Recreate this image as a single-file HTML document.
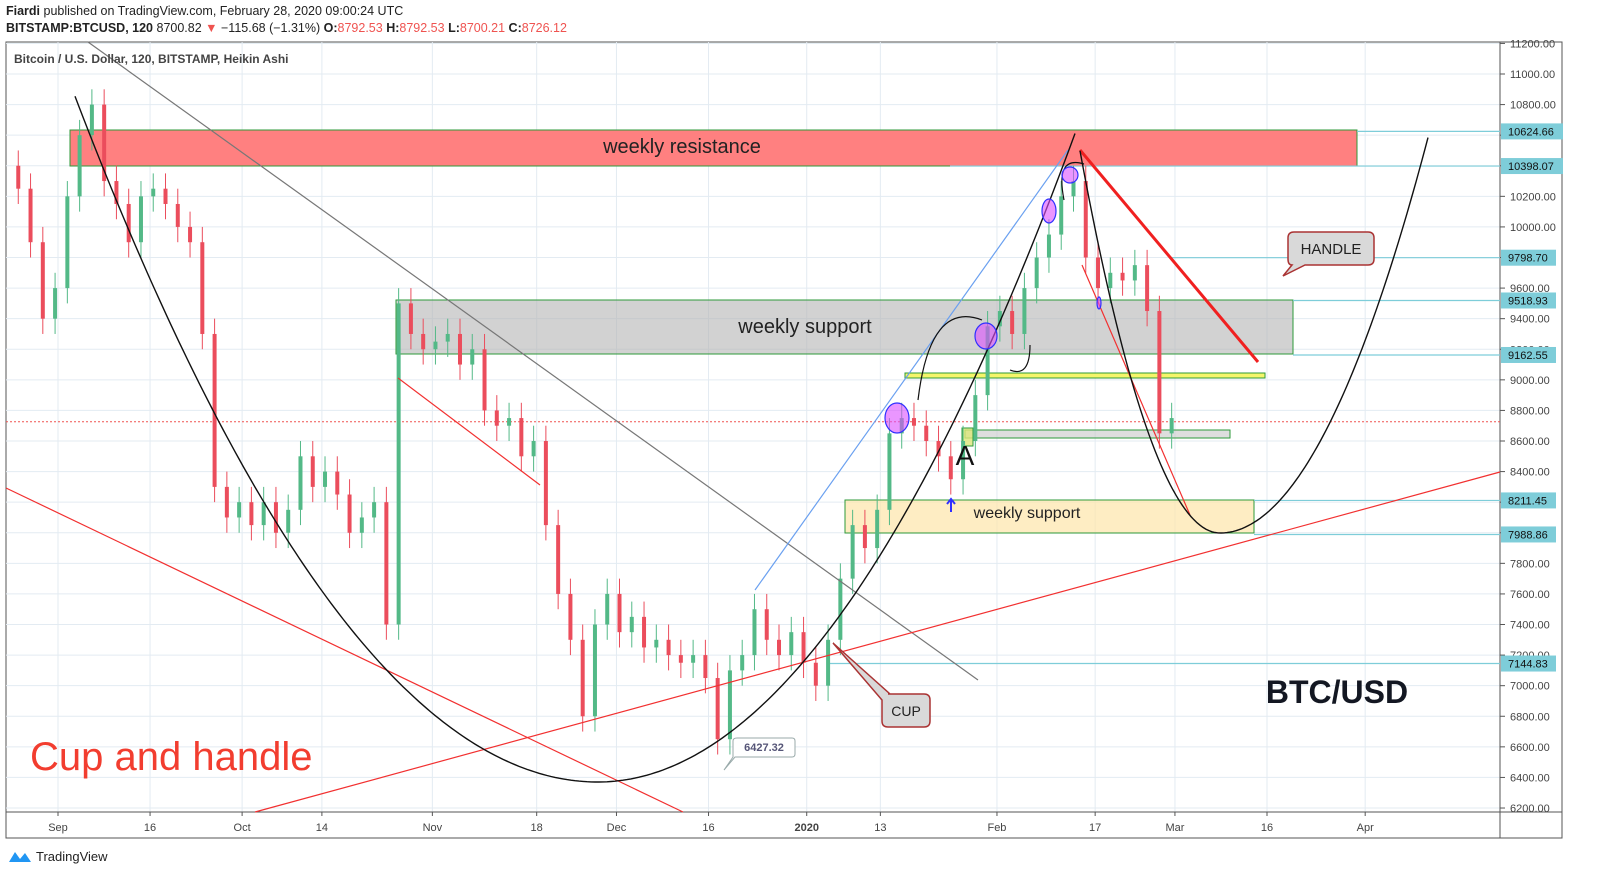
<!DOCTYPE html>
<html><head><meta charset="utf-8">
<style>
html,body{margin:0;padding:0;overflow:hidden;width:1602px;height:894px;}
body{background:#fff;font-family:"Liberation Sans",sans-serif;}
#wrap{position:relative;width:1602px;height:894px;overflow:hidden;}
.hdr{position:absolute;left:6px;font-size:12.5px;color:#222;white-space:nowrap;}
.red{color:#ef5350}
</style></head><body>
<div id="wrap">
<div class="hdr" style="top:4px"><b>Fiardi</b> published on TradingView.com, February 28, 2020 09:00:24 UTC</div>
<div class="hdr" style="top:21px"><b>BITSTAMP:BTCUSD, 120</b> 8700.82 <span class="red">▼</span> −115.68 (−1.31%) <b>O:</b><span class="red">8792.53</span> <b>H:</b><span class="red">8792.53</span> <b>L:</b><span class="red">8700.21</span> <b>C:</b><span class="red">8726.12</span></div>
<svg id="chart" width="1602" height="894" style="position:absolute;left:0;top:0"></svg>
<div style="position:absolute;left:8px;top:848px;font-size:13px;color:#222;display:flex;align-items:center;gap:4px">
<svg width="24" height="16"><path d="M1 14 L7 4 L12 11 L17 5 L23 14 Z" fill="#2196f3"/></svg>TradingView</div>
</div>
<script>
const prices=[10400,10250,9900,9400,9600,10200,10600,10800,10300,10150,9900,10200,10250,10150,10000,9900,9300,8300,8100,8200,8050,8200,8000,8150,8500,8300,8400,8250,8000,8100,8200,7400,9500,9300,9200,9250,9300,9100,9200,8800,8700,8750,8500,8600,8050,7600,7300,6800,7400,7600,7350,7450,7250,7300,7200,7150,7200,7050,6650,7100,7200,7500,7300,7200,7350,7150,7000,7300,7700,8050,7900,8150,8650,8750,8700,8600,8500,8350,8600,8900,9350,9450,9300,9600,9800,9950,10200,10300,9800,9600,9700,9650,9750,9450,8650,8750];
const priceTicks=[6200,6400,6600,6800,7000,7200,7400,7600,7800,8000,8200,8400,8600,8800,9000,9200,9400,9600,9800,10000,10200,10400,10600,10800,11000,11200];
const dateLabels=["Sep","16","Oct","14","Nov","18","Dec","16","2020","13","Feb","17","Mar","16","Apr"];
const dateDays=[0,15,30,43,61,78,91,106,122,134,153,169,182,197,213];
const levels=[10624.66,10398.07,9798.70,9518.93,9162.55,8211.45,7988.86,7144.83];
const levelStart=[1357,950,1170,1293,1293,1254,1254,830];
const NS="http://www.w3.org/2000/svg";
const svg=document.getElementById('chart');
const L=6,R=1500,T=42,B=812;
const y=p=>74+(11000-p)*0.15292;
const xd=d=>58+d*6.137;
const xi=i=>6+i*12.27;
function el(tag,attrs,parent){const e=document.createElementNS(NS,tag);for(const k in attrs)e.setAttribute(k,attrs[k]);(parent||svg).appendChild(e);return e;}
el('rect',{x:L,y:T,width:1556,height:796,fill:'#fff',stroke:'#555','stroke-width':1});
priceTicks.forEach(p=>{const g=el('line',{x1:L,x2:R,y1:y(p),y2:y(p),stroke:'#e3ebf2'});
 if(y(p)>T&&y(p)<B+5){const t=el('text',{x:R+10,y:y(p)+4,'font-size':11,fill:'#444'});t.textContent=p.toFixed(2);el('line',{x1:R,x2:R+5,y1:y(p),y2:y(p),stroke:'#555'});}});
dateLabels.forEach((d,i)=>{const x=xd(dateDays[i]);const g=el('line',{x1:x,x2:x,y1:T,y2:B,stroke:'#e3ebf2'});
 el('line',{x1:x,x2:x,y1:B,y2:B+4,stroke:'#555'});
 const t=el('text',{x:x,y:831,'font-size':11,fill:'#444','text-anchor':'middle','font-weight':d==='2020'?'bold':'normal'});t.textContent=d;});
el('line',{x1:R,x2:R,y1:T,y2:838,stroke:'#555'});
el('line',{x1:L,x2:1562,y1:B,y2:B,stroke:'#555'});
function zone(x,yy,w,h,fill,name){const r=el('rect',{x:x,y:yy,width:w,height:h,fill:fill,stroke:'#2e9a3a','stroke-width':1});return r;}
zone(70,130,1287,36,'#ff8080','weekly-resistance-zone');
zone(396,300,897,54,'rgba(180,180,180,0.6)','weekly-support-zone');
zone(845,500,409,33,'rgba(253,230,170,0.7)','lower-weekly-support-zone');
zone(905,373,360,5,'#f5f56a','yellow-level');
zone(965,430,265,8,'rgba(200,200,200,0.6)','small-grey-zone');
zone(962,428,11,18,'rgba(220,230,120,0.8)','small-yellow-zone');
levels.forEach((p,i)=>{const l=el('line',{x1:levelStart[i],x2:R,y1:y(p),y2:y(p),stroke:'#7ecdd9','stroke-width':1.2});
 const r=el('rect',{x:R+1,y:y(p)-8,width:p>=10000?62:55,height:16,fill:'#7ecdd9'});
 const t=el('text',{x:R+8,y:y(p)+4,'font-size':11,fill:'#111'});t.textContent=p.toFixed(2);});
const cp=el('line',{x1:L,x2:R,y1:y(8726),y2:y(8726),stroke:'#ef5350','stroke-dasharray':'2,2'});
for(let i=1;i<prices.length;i++){const o=prices[i-1],c=prices[i];const up=c>=o;const col=up?'#53b987':'#eb4d5c';const x=xi(i);
 const w=el('line',{x1:x,x2:x,y1:y(Math.max(o,c)+100),y2:y(Math.min(o,c)-100),stroke:col,'stroke-width':1});
 const b=el('rect',{x:x-2,y:y(Math.max(o,c)),width:4,height:Math.max(1,Math.abs(y(o)-y(c))),fill:col});}
function line(x1,y1,x2,y2,col,w,name){const l=el('line',{x1,y1,x2,y2,stroke:col,'stroke-width':w});}
line(88,42,978,680,'#777',1.2,'grey-downtrend-line');
line(6,488,683,812,'#f23030',1.2,'red-descending-line');
line(255,812,1500,472,'#f23030',1.2,'red-ascending-line');
line(398,378,540,485,'#f23030',1.2,'red-channel-line');
line(755,590,1068,150,'#6aa0f0',1.2,'blue-trend-line');
line(1080,150,1258,362,'#f02020',3,'handle-resistance-line');
line(1082,265,1190,515,'#f23030',1.2,'handle-channel-line');
let d='';for(let x=75;x<=1078;x+=4){const k=x<598?0.002507:0.00285;const yy=782-k*(x-598)*(x-598);d+=(d?'L':'M')+x+' '+yy.toFixed(1);}
const cup=el('path',{d,fill:'none',stroke:'#111','stroke-width':1.4});
d='';for(let x=1080;x<=1430;x+=3){const k=x<1220?0.0195:0.00914;const yy=533-k*(x-1220)*(x-1220);d+=(d?'L':'M')+x+' '+yy.toFixed(1);}
const hc=el('path',{d,fill:'none',stroke:'#111','stroke-width':1.4});
el('path',{d:'M918 400 Q930 300 982 320',fill:'none',stroke:'#111','stroke-width':1.2});
el('path',{d:'M1010 370 Q1030 378 1030 345',fill:'none',stroke:'#111','stroke-width':1.2});
el('path',{d:'M1064 200 Q1055 155 1084 164',fill:'none',stroke:'#111','stroke-width':1.2});
[[897,418,12,15],[986,336,11,13],[1049,211,7,12],[1070,175,8,8],[1099,303,2,6]].forEach(e=>{const c=el('ellipse',{cx:e[0],cy:e[1],rx:e[2],ry:e[3],fill:'rgba(220,80,255,0.6)',stroke:'#3030ff','stroke-width':1.2});});
function txt(x,yy,s,size,col,weight,anchor,name){const t=el('text',{x,y:yy,'font-size':size,fill:col,'font-weight':weight||'normal','text-anchor':anchor||'start'});t.textContent=s;return t;}
txt(14,63,'Bitcoin / U.S. Dollar, 120, BITSTAMP, Heikin Ashi',12,'#444','bold','start','series-title');
txt(682,153,'weekly resistance',20,'#222','normal','middle','weekly-resistance-label');
txt(805,333,'weekly support',20,'#222','normal','middle','weekly-support-label');
txt(1027,518,'weekly support',16,'#222','normal','middle','lower-weekly-support-label');
txt(965,465,'A',28,'#111','normal','middle','point-a-label');
txt(1337,703,'BTC/USD',32,'#131722','bold','middle','btcusd-label');
txt(30,770,'Cup and handle',40,'#f23d2f','normal','start','cup-and-handle-title');
el('path',{d:'M951 512 L951 500 M947 504 L951 499 L955 504',stroke:'#3030ff','stroke-width':2,fill:'none'});
el('path',{d:'M1294 232 H1368 Q1374 232 1374 238 V259 Q1374 265 1368 265 H1305 L1283 276 L1292 265 Q1288 265 1288 259 V238 Q1288 232 1294 232Z',fill:'#d9d9d9',stroke:'#a33','stroke-width':1.5});
txt(1331,254,'HANDLE',15,'#222','normal','middle','handle-callout');
el('path',{d:'M888 694 H924 Q930 694 930 700 V721 Q930 727 924 727 H888 Q882 727 882 721 V700 L833 643 L890 694Z',fill:'#d9d9d9',stroke:'#a33','stroke-width':1.5});
txt(906,716,'CUP',14,'#222','normal','middle','cup-callout');
el('path',{d:'M737 738 H792 Q795 738 795 741 V754 Q795 757 792 757 H735 L724 770 L733 757 V741 Q733 738 737 738Z',fill:'#fff',stroke:'#9aa','stroke-width':1});
txt(764,751,'6427.32',11,'#557','bold','middle','low-price-callout');
</script>
</body></html>
